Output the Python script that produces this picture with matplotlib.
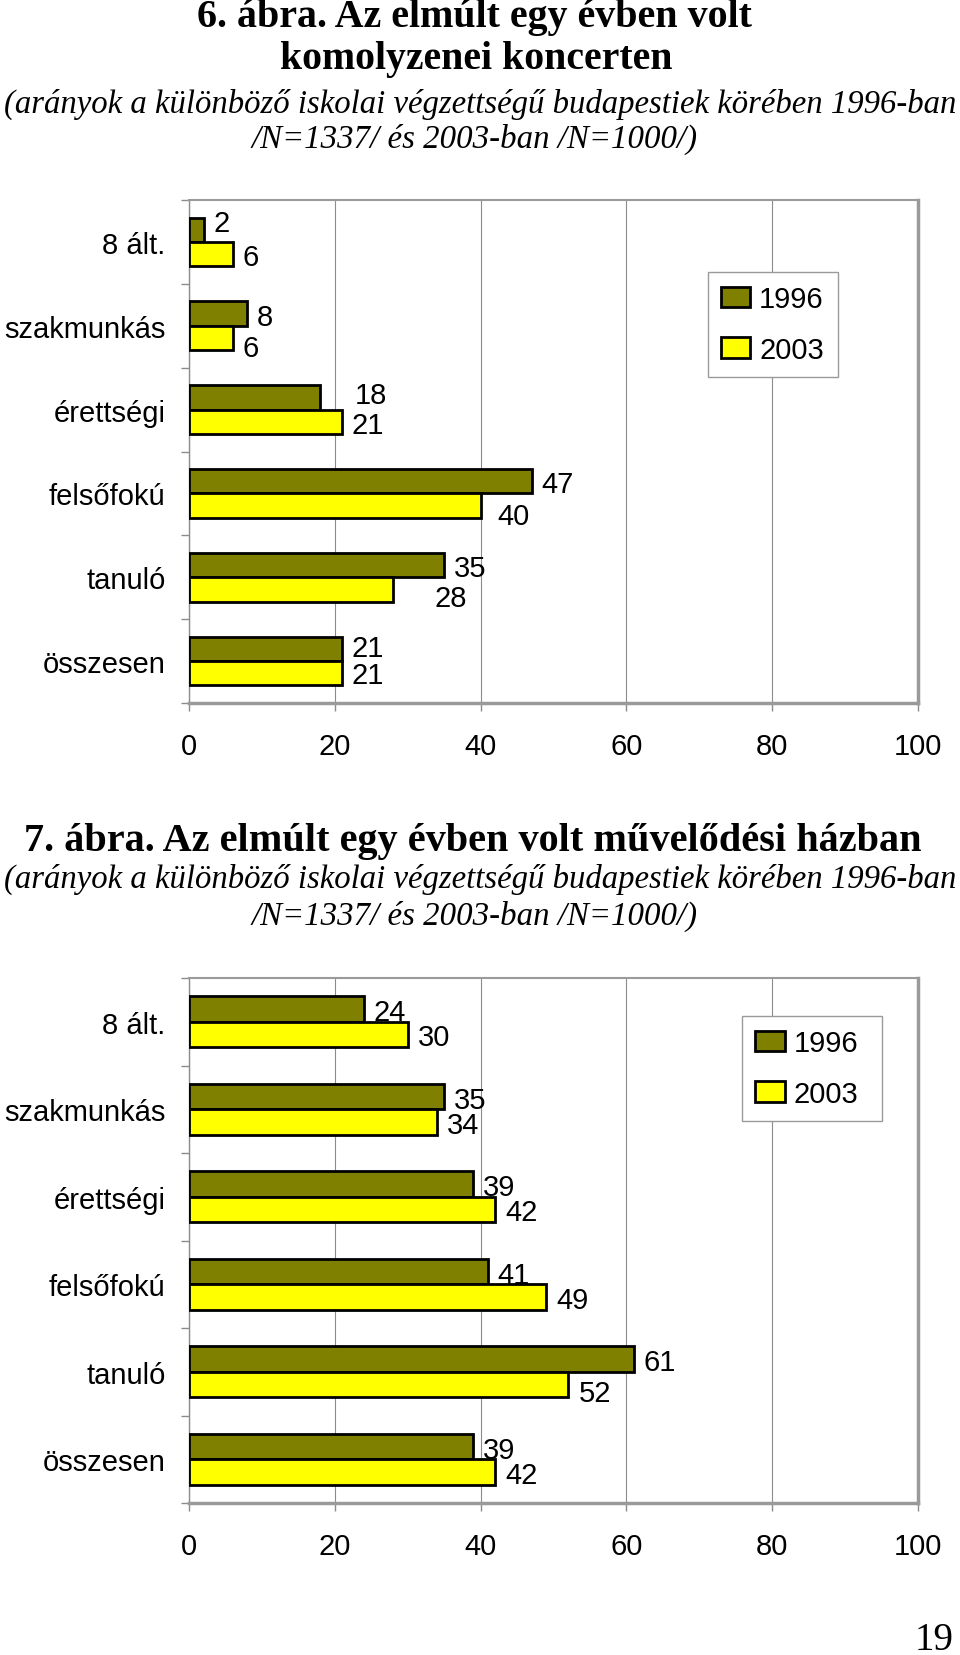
import matplotlib
matplotlib.use("Agg")
import matplotlib.pyplot as plt
from matplotlib.patches import Rectangle
from matplotlib.legend_handler import HandlerPatch
import numpy as np

# ---------------- data ----------------
categories = ['8 ált.', 'szakmunkás', 'érettségi', 'felsőfokú', 'tanuló', 'összesen']
series_names = ['1996', '2003']
koncert_1996 = [2, 8, 18, 47, 35, 21]
koncert_2003 = [6, 6, 21, 40, 28, 21]
muvhaz_1996 = [24, 35, 39, 41, 61, 39]
muvhaz_2003 = [30, 34, 42, 49, 52, 42]
x_ticks = [0, 20, 40, 60, 80, 100]

title6 = ['6. ábra. Az elmúlt egy évben volt', 'komolyzenei koncerten']
title7 = ['7. ábra. Az elmúlt egy évben volt művelődési házban']
subtitle = ['(arányok a különböző iskolai végzettségű budapestiek körében 1996-ban',
            '/N=1337/ és 2003-ban /N=1000/)']
page_number = '19'

# ---------------- style ----------------
W, H = 960, 1656
C96 = '#808000'
C03 = '#FFFF00'
GRAY = '#8c8c8c'
SANS = ['Liberation Sans', 'DejaVu Sans']
SERIF = ['Liberation Serif', 'DejaVu Serif']
FS = 21

# label nudges (points): (series, index) -> (dx, dy)
nudges6 = {(0, 0): (0, 7), (0, 2): (18, 4), (1, 1): (0, -5),
           (1, 3): (5, -5), (1, 4): (23, -4), (0, 5): (0, 3), (1, 5): (0, 1)}
nudges7 = {(1, 4): (1, -4)}

fig = plt.figure(figsize=(W / 100, H / 100), dpi=100)


def rect(left, top, right, bottom):
    return [left / W, 1 - bottom / H, (right - left) / W, (bottom - top) / H]


def square_patch(legend, orig_handle, xdescent, ydescent, width, height, fontsize):
    s = height
    return Rectangle((width - s - xdescent, -ydescent), s, s)


def draw_chart(ax, v96, v03, nudges, leg_bbox):
    y = np.arange(len(categories))
    h = 0.29
    b1 = ax.barh(y - h / 2, v96, height=h, color=C96, edgecolor='black',
                 linewidth=2, label=series_names[0], zorder=3)
    b2 = ax.barh(y + h / 2, v03, height=h, color=C03, edgecolor='black',
                 linewidth=2, label=series_names[1], zorder=3)
    ax.set_xlim(0, 100)
    ax.set_ylim(len(categories) - 0.5, -0.5)
    ax.set_xticks(x_ticks)
    ax.set_xticklabels([str(t) for t in x_ticks], family=SANS, fontsize=FS)
    ax.set_yticks(y)
    ax.set_yticklabels(categories, family=SANS, fontsize=FS)
    ax.set_yticks(np.arange(-0.5, len(categories) + 0.5, 1), minor=True)
    ax.tick_params(axis='y', which='major', length=0, pad=17)
    ax.tick_params(axis='y', which='minor', length=6, width=1, color=GRAY, direction='out')
    ax.tick_params(axis='x', length=6, width=1, color=GRAY, direction='out', pad=15)
    ax.grid(axis='x', color=GRAY, linewidth=0.8, zorder=0)
    ax.set_axisbelow(True)
    ax.spines['top'].set_color('#9a9a9a')
    ax.spines['top'].set_linewidth(1.5)
    ax.spines['right'].set_color('#9a9a9a')
    ax.spines['right'].set_linewidth(2.5)
    ax.spines['bottom'].set_color('#9a9a9a')
    ax.spines['bottom'].set_linewidth(2.5)
    ax.spines['left'].set_color(GRAY)
    ax.spines['left'].set_linewidth(1)

    for s, (vals, off) in enumerate([(v96, -h / 2), (v03, h / 2)]):
        for i, v in enumerate(vals):
            dx, dy = nudges.get((s, i), (0, 0))
            ax.annotate(str(v), xy=(v, y[i] + off), xytext=(7 + dx, dy),
                        textcoords='offset points', ha='left', va='center_baseline',
                        fontsize=FS, family=SANS, zorder=5)

    leg = ax.legend(handles=[b1, b2], loc='upper left', bbox_to_anchor=leg_bbox,
                    mode='expand', prop={'family': SANS, 'size': FS},
                    frameon=True, fancybox=False, framealpha=1, edgecolor='#9a9a9a',
                    handlelength=1.0, handleheight=0.7, handletextpad=0.3,
                    labelspacing=0.78, borderpad=0.45, borderaxespad=0,
                    handler_map={Rectangle: HandlerPatch(patch_func=square_patch)})
    leg.get_frame().set_linewidth(1)
    return leg


ax1 = fig.add_axes(rect(189, 201, 918, 704))
draw_chart(ax1, koncert_1996, koncert_2003, nudges6, (0.712, 0.649, 0.178, 0.208))
ax2 = fig.add_axes(rect(189, 979, 918, 1504))
draw_chart(ax2, muvhaz_1996, muvhaz_2003, nudges7, (0.759, 0.731, 0.192, 0.197))

# ---------------- titles (fit to measured widths) ----------------
renderer = fig.canvas.get_renderer()


def fitted_text(txt, cx, cy, target_w, weight='normal', style='normal', fs0=24):
    t = fig.text(cx / W, 1 - cy / H, txt, ha='center', va='center', family=SERIF,
                 fontsize=fs0, fontweight=weight, fontstyle=style)
    wpx = t.get_window_extent(renderer).width
    t.set_fontsize(fs0 * target_w / wpx)
    return t


fitted_text(title6[0], (196 + 752) / 2, 17, 556, weight='bold', fs0=27)
fitted_text(title6[1], (280 + 672) / 2, 60, 392, weight='bold', fs0=27)
fitted_text(subtitle[0], 480, 104, 956, style='italic', fs0=24)
fitted_text(subtitle[1], (252 + 698) / 2, 139, 446, style='italic', fs0=24)

fitted_text(title7[0], (25 + 921) / 2, 842, 896, weight='bold', fs0=27)
fitted_text(subtitle[0], 480, 879, 956, style='italic', fs0=24)
fitted_text(subtitle[1], (252 + 698) / 2, 916, 446, style='italic', fs0=24)

fig.text(954 / W, 1 - 1650 / H, page_number, ha='right', va='baseline',
         family=SERIF, fontsize=28)

fig.savefig('out.png', dpi=100)
